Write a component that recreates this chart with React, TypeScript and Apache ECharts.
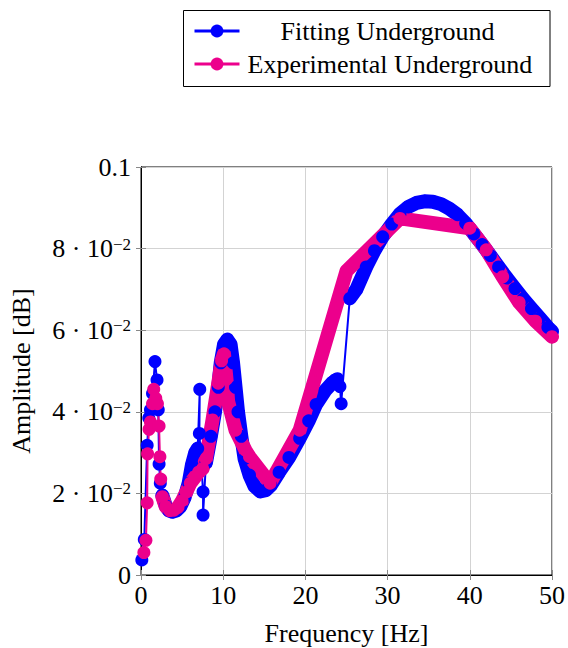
import React, { useEffect, useRef } from "react";
import * as echarts from "echarts";

// ---- data (frequency [Hz], amplitude) ----
const fittingStart: [number, number][] = [
  [0.1, 0.0037], [0.4, 0.0087], [0.75, 0.0318], [0.95, 0.0385], [1.15, 0.0405],
  [1.4, 0.0445], [1.7, 0.0523], [1.95, 0.0478], [2.1, 0.0405], [2.2, 0.0272], [2.35, 0.0225],
];
const fittingSmooth1: [number, number][] = [
  [2.6, 0.0195], [3.0, 0.017], [3.4, 0.0158], [3.8, 0.0155], [4.3, 0.0158], [4.8, 0.0168],
  [5.3, 0.019], [5.8, 0.0225], [6.2, 0.027], [6.6, 0.03], [6.9, 0.031],
];
const fittingSpike: [number, number][] = [
  [7.15, 0.0455], [7.1, 0.0347], [7.55, 0.0204], [7.55, 0.0147],
];
const fittingSmooth2: [number, number][] = [
  [7.9, 0.0275], [8.5, 0.034], [9.0, 0.04], [9.4, 0.046], [9.7, 0.052], [10.1, 0.0565],
  [10.5, 0.0577], [10.9, 0.0565], [11.2, 0.052], [11.5, 0.046], [11.8, 0.04], [12.2, 0.034],
  [12.6, 0.0285], [13.2, 0.0245], [13.8, 0.0218], [14.5, 0.0205], [15.2, 0.0208], [15.8, 0.022],
  [16.8, 0.0252], [18.0, 0.0288], [19.3, 0.0335], [20.4, 0.0378], [21.3, 0.0418], [22.4, 0.0452],
  [23.3, 0.0472],
];
const fittingCluster: [number, number][] = [
  [23.6, 0.0478], [23.9, 0.0481], [24.2, 0.0462], [24.35, 0.042],
];
const fittingSmooth3: [number, number][] = [
  [25.4, 0.0678], [26.2, 0.07], [27.4, 0.0755], [28.4, 0.0795], [29.4, 0.0829], [30.5, 0.086],
  [31.5, 0.0885], [32.5, 0.0902], [33.5, 0.0912], [34.5, 0.0916], [35.5, 0.0915], [36.5, 0.0909],
  [37.5, 0.0898], [38.5, 0.0883], [39.5, 0.0862], [40.5, 0.0836], [41.5, 0.081], [42.5, 0.0783],
  [43.5, 0.0755], [44.5, 0.0728], [45.5, 0.0702], [46.5, 0.0677], [47.5, 0.0653], [48.5, 0.063],
  [49.5, 0.0607], [50.0, 0.0597],
];

const experimentalStart: [number, number][] = [
  [0.35, 0.0055], [0.6, 0.0085], [0.75, 0.0177], [0.8, 0.0297], [0.98, 0.0357], [1.15, 0.0375],
  [1.4, 0.042], [1.55, 0.0455], [1.8, 0.0433], [2.0, 0.042], [2.2, 0.0365], [2.3, 0.029],
  [2.4, 0.0235],
];
const experimentalSmooth: [number, number][] = [
  [2.6, 0.0192], [3.0, 0.0168], [3.5, 0.0158], [4.0, 0.0159], [4.5, 0.0166], [5.0, 0.0182],
  [5.5, 0.0203], [6.0, 0.0225], [6.6, 0.0241], [7.0, 0.0252], [7.5, 0.0261], [7.9, 0.0285],
  [8.7, 0.038], [9.4, 0.047], [9.8, 0.0525], [10.1, 0.0542], [10.4, 0.048], [10.6, 0.0425],
  [11.5, 0.0355], [12.7, 0.0306], [13.2, 0.029], [15.7, 0.0225], [19.3, 0.0355], [25.0, 0.0745],
  [31.5, 0.0874], [40.0, 0.085], [42.0, 0.0797], [44.0, 0.0731], [46.0, 0.0668], [48.0, 0.0622],
  [50.0, 0.0584],
];

const seriesNames = ["Fitting Underground", "Experimental Underground"];
const xTicks = { min: 0, max: 50, interval: 10 };
const yTicks = { min: 0, max: 0.1, interval: 0.02 };

const BLUE = "#0000ff";
const PINK = "#ec008c";
const FONT = "'Liberation Serif', 'Times New Roman', serif";

function band(data: [number, number][], color: string, id: string) {
  return {
    id,
    type: "line",
    data,
    symbol: "none",
    silent: true,
    clip: false,
    lineStyle: { width: 14, color, cap: "round", join: "round" },
    itemStyle: { color },
  };
}

function marked(name: string, data: [number, number][], color: string) {
  return {
    name,
    type: "line",
    data,
    symbol: "circle",
    symbolSize: 13,
    clip: false,
    lineStyle: { width: 2, color },
    itemStyle: { color },
  };
}

function legendAt(name: string, top: number, padLeft: number) {
  return {
    data: [name],
    left: 193,
    top,
    orient: "horizontal",
    itemWidth: 45,
    itemHeight: 16,
    padding: 0,
    selectedMode: false,
    lineStyle: { width: 3 },
    formatter: (n: string) => `{a|${n}}`,
    textStyle: {
      color: "#000",
      fontFamily: FONT,
      fontSize: 26,
      rich: { a: { color: "#000", fontFamily: FONT, fontSize: 26, padding: [0, 0, 0, padLeft] } },
    },
  };
}

export default function App() {
  const ref = useRef<HTMLDivElement>(null);
  useEffect(() => {
    if (!ref.current) return;
    const chart = echarts.init(ref.current, undefined, { renderer: "svg" });
    const axisFont = { color: "#000", fontFamily: FONT, fontSize: 26 };
    chart.setOption({
      animation: false,
      backgroundColor: "#fff",
      grid: {
        left: 141,
        right: 16,
        top: 167,
        bottom: 73,
        show: true,
        borderColor: "#000",
        borderWidth: 1,
        backgroundColor: "transparent",
        outerBoundsMode: "none",
      },
      legend: [legendAt(seriesNames[0], 18, 36), legendAt(seriesNames[1], 51, 3)],
      graphic: [
        {
          type: "rect",
          shape: { x: 183.5, y: 10.5, width: 366.5, height: 76 },
          style: { fill: "none", stroke: "#000", lineWidth: 1 },
          z: 100,
        },
      ],
      xAxis: [
        {
          type: "value",
          ...xTicks,
          name: "Frequency [Hz]",
          nameLocation: "middle",
          nameGap: 45,
          nameTextStyle: axisFont,
          axisLine: { show: true, lineStyle: { color: "#000", width: 1 } },
          axisTick: { show: true, inside: true, length: 5, lineStyle: { color: "#888" } },
          axisLabel: { ...axisFont, margin: 7 },
          splitLine: { show: true, lineStyle: { color: "#d3d3d3", width: 1 } },
        },
        {
          type: "value",
          position: "top",
          ...xTicks,
          axisLine: { show: true, lineStyle: { color: "#000", width: 1 } },
          axisTick: { show: true, inside: true, length: 5, lineStyle: { color: "#888" } },
          axisLabel: { show: false },
          splitLine: { show: false },
        },
      ],
      yAxis: [
        {
          type: "value",
          ...yTicks,
          name: "Amplitude [dB]",
          nameLocation: "middle",
          nameRotate: 90,
          nameGap: 107,
          nameTextStyle: axisFont,
          axisLine: { show: true, lineStyle: { color: "#000", width: 1 } },
          axisTick: { show: true, inside: true, length: 5, lineStyle: { color: "#888" } },
          splitLine: { show: true, lineStyle: { color: "#d3d3d3", width: 1 } },
          axisLabel: {
            margin: 10,
            color: "#000",
            fontFamily: FONT,
            fontSize: 26,
            formatter: (v: number) => {
              const k = Math.round(v * 100);
              if (k === 0) return "0";
              if (k === 10) return "0.1";
              return `{m|${k} · 10}{s|\u22122}`;
            },
            rich: {
              m: { color: "#000", fontFamily: FONT, fontSize: 26, lineHeight: 26 },
              s: { color: "#000", fontFamily: FONT, fontSize: 17, lineHeight: 17, verticalAlign: "top" },
            },
          },
        },
        {
          type: "value",
          position: "right",
          ...yTicks,
          axisLine: { show: true, lineStyle: { color: "#000", width: 1 } },
          axisTick: { show: true, inside: true, length: 5, lineStyle: { color: "#888" } },
          axisLabel: { show: false },
          splitLine: { show: false },
        },
      ],
      series: [
        band(fittingSmooth1, BLUE, "fb1"),
        band(fittingSmooth2, BLUE, "fb2"),
        band(fittingSmooth3, BLUE, "fb3"),
        marked(seriesNames[0], [
          ...fittingStart,
          ...fittingSmooth1,
          ...fittingSpike,
          ...fittingSmooth2,
          ...fittingCluster,
          ...fittingSmooth3,
        ], BLUE),
        band(experimentalSmooth, PINK, "eb1"),
        marked(seriesNames[1], [...experimentalStart, ...experimentalSmooth], PINK),
      ],
    });
    return () => chart.dispose();
  }, []);
  return (
    <div
      ref={ref}
      style={{ position: "absolute", left: 0, top: 0, width: 568, height: 648 }}
    />
  );
}
